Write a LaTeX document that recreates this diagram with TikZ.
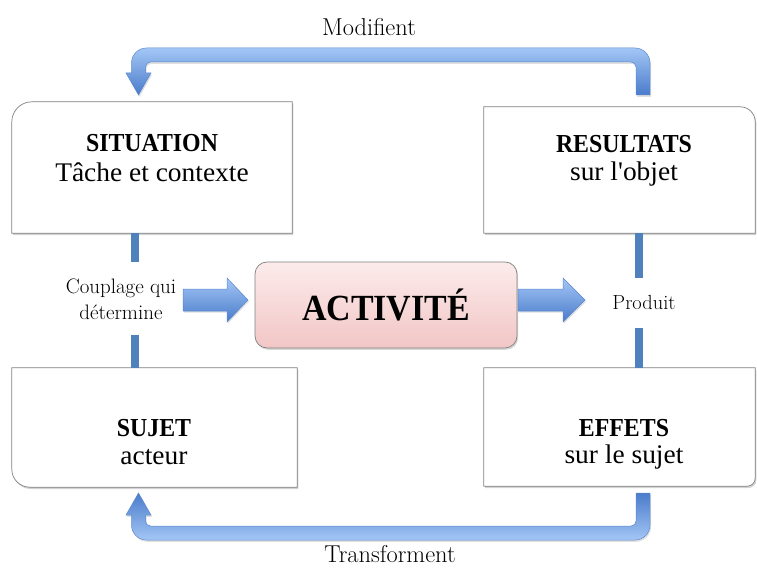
\documentclass[tikz,border=0pt]{standalone}
\usepackage{fontspec}
\newfontfamily\boxreg[FakeStretch=1.02]{Liberation Serif}
\newfontfamily\boxbold[FakeStretch=0.92]{Liberation Serif}
\usetikzlibrary{shadows,calc}
\definecolor{barblue}{HTML}{4F81BD}
\definecolor{lightblue}{HTML}{A3C6F5}
\definecolor{darkblue}{HTML}{4A7CCB}
\definecolor{edgeblue}{HTML}{5B88CF}
\definecolor{pinktop}{HTML}{FCEBEB}
\definecolor{pinkbot}{HTML}{F2C6C6}
\definecolor{edgegray}{HTML}{808080}
\begin{document}
\begin{tikzpicture}[x=1bp,y=-1bp,
  boxarea/.style={rectangle,draw=none,inner sep=0pt},
  boxline/.style={draw=edgegray,line width=0.7bp,fill=white,
    drop shadow={shadow xshift=1.2bp,shadow yshift=-1.8bp,opacity=0.35}},
  titletext/.style={font=\boxbold\bfseries\fontsize{26}{30}\selectfont,inner sep=0pt},
  subtext/.style={font=\boxreg\fontsize{27}{32}\selectfont,inner sep=0pt},
  labeltext/.style={font=\fontsize{21}{26}\selectfont,align=center,inner sep=0pt},
  looptext/.style={font=\fontsize{24.5}{30}\selectfont,inner sep=0pt},
  bar/.style={draw=barblue,line width=8bp},
  blockarrow/.style={draw=edgeblue,line width=0.5bp,
    top color=lightblue,bottom color=darkblue,
    drop shadow={shadow xshift=1bp,shadow yshift=-1.5bp,opacity=0.25}},
  bentarrow/.style={draw=edgeblue,line width=0.5bp,
    drop shadow={shadow xshift=1bp,shadow yshift=-1.8bp,opacity=0.25}}
]
\useasboundingbox (0,0) rectangle (757,568);

% boxes (areas)
\node[boxarea,minimum width=280bp,minimum height=131bp] (sit) at (152,167.5) {};
\node[boxarea,minimum width=271bp,minimum height=126bp] (res) at (619.5,170) {};
\node[boxarea,minimum width=285bp,minimum height=119bp] (suj) at (154.5,427.5) {};
\node[boxarea,minimum width=271bp,minimum height=118bp] (eff) at (619.5,427) {};

% outlines with one rounded corner each
\path[boxline] (sit.south west) -- ($(sit.north west)+(0,20)$)
  .. controls +(0,-11) and +(-11,0) .. ($(sit.north west)+(20,0)$)
  -- (sit.north east) -- (sit.south east) -- cycle;
\path[boxline] (res.south west) -- (res.north west) -- ($(res.north east)+(-15,0)$)
  .. controls +(8.3,0) and +(0,-8.3) .. ($(res.north east)+(0,15)$)
  -- (res.south east) -- cycle;
\path[boxline] (suj.north west) -- ($(suj.south west)+(0,-18)$)
  .. controls +(0,10) and +(-10,0) .. ($(suj.south west)+(18,0)$)
  -- (suj.south east) -- (suj.north east) -- cycle;
\path[boxline] (eff.north west) -- (eff.south west) -- ($(eff.south east)+(-8,0)$)
  .. controls +(4.4,0) and +(0,4.4) .. ($(eff.south east)+(0,-8)$)
  -- (eff.north east) -- cycle;

% box texts
\node[titletext] (sitA) at (152,143) {SITUATION};
\node[subtext]   (sitB) at (152,172) {Tâche et contexte};
\node[titletext] (resA) at (624,144) {RESULTATS};
\node[subtext]   (resB) at (624,174) {sur l'objet};
\node[titletext] (sujA) at (154,428) {SUJET};
\node[subtext]   (sujB) at (154,457) {acteur};
\node[titletext] (effA) at (624,428) {EFFETS};
\node[subtext]   (effB) at (624,457) {sur le sujet};

% activity
\node[rectangle,rounded corners=12bp,draw=edgegray,line width=0.7bp,
  top color=pinktop,bottom color=pinkbot,minimum width=262bp,minimum height=86bp,
  drop shadow={shadow xshift=1.2bp,shadow yshift=-1.8bp,opacity=0.3},
  font=\boxbold\bfseries\fontsize{37}{42}\selectfont] (act) at (386,305) {ACTIVITÉ};

% side labels
\node[labeltext] (lblL) at (121,299) {Couplage qui\\détermine};
\node[labeltext,font=\fontsize{20.5}{26}\selectfont] (lblR) at (644,302) {Produit};

% vertical bars
\coordinate (cL1) at (135,262);
\coordinate (cL2) at (135,335);
\coordinate (cR1) at (639,278);
\coordinate (cR2) at (639,328);
\draw[bar] (sit.south -| cL1) -- (cL1);
\draw[bar] (cL2) -- (suj.north -| cL2);
\draw[bar] (res.south -| cR1) -- (cR1);
\draw[bar] (cR2) -- (eff.north -| cR2);

% block arrows
\path[blockarrow] (183,289) -- (227,289) -- (227,278) -- (248,300) -- (227,322)
  -- (227,311) -- (183,311) -- cycle;
\path[blockarrow] (518,289) -- (563,289) -- (563,278) -- (585,300) -- (563,322)
  -- (563,311) -- (518,311) -- cycle;

% top bent arrow: Modifient
\path[bentarrow,top color=lightblue,bottom color=darkblue]
  (636,95) -- (636,67) .. controls (636,64.2) and (633.8,62) .. (631,62)
  -- (150.5,62) .. controls (147.7,62) and (145.5,64.2) .. (145.5,67)
  -- (145.5,73) -- (151,73) -- (138.5,95) -- (126,73) -- (131.5,73)
  -- (131.5,63) .. controls (131.5,54.7) and (138.2,48) .. (146.5,48)
  -- (635,48) .. controls (643.3,48) and (650,54.7) .. (650,63)
  -- (650,95) -- cycle;
\node[looptext] (modif) at (369,27) {Modifient};

% bottom bent arrow: Transforment
\path[bentarrow,top color=darkblue,bottom color=lightblue]
  (636,493) -- (636,521) .. controls (636,523.8) and (633.8,526) .. (631,526)
  -- (150.5,526) .. controls (147.7,526) and (145.5,523.8) .. (145.5,521)
  -- (145.5,515) -- (151,515) -- (138.5,493) -- (126,515) -- (131.5,515)
  -- (131.5,525) .. controls (131.5,533.3) and (138.2,540) .. (146.5,540)
  -- (635,540) .. controls (643.3,540) and (650,533.3) .. (650,525)
  -- (650,493) -- cycle;
\node[looptext] (transf) at (390,554) {Transforment};
\end{tikzpicture}
\end{document}
